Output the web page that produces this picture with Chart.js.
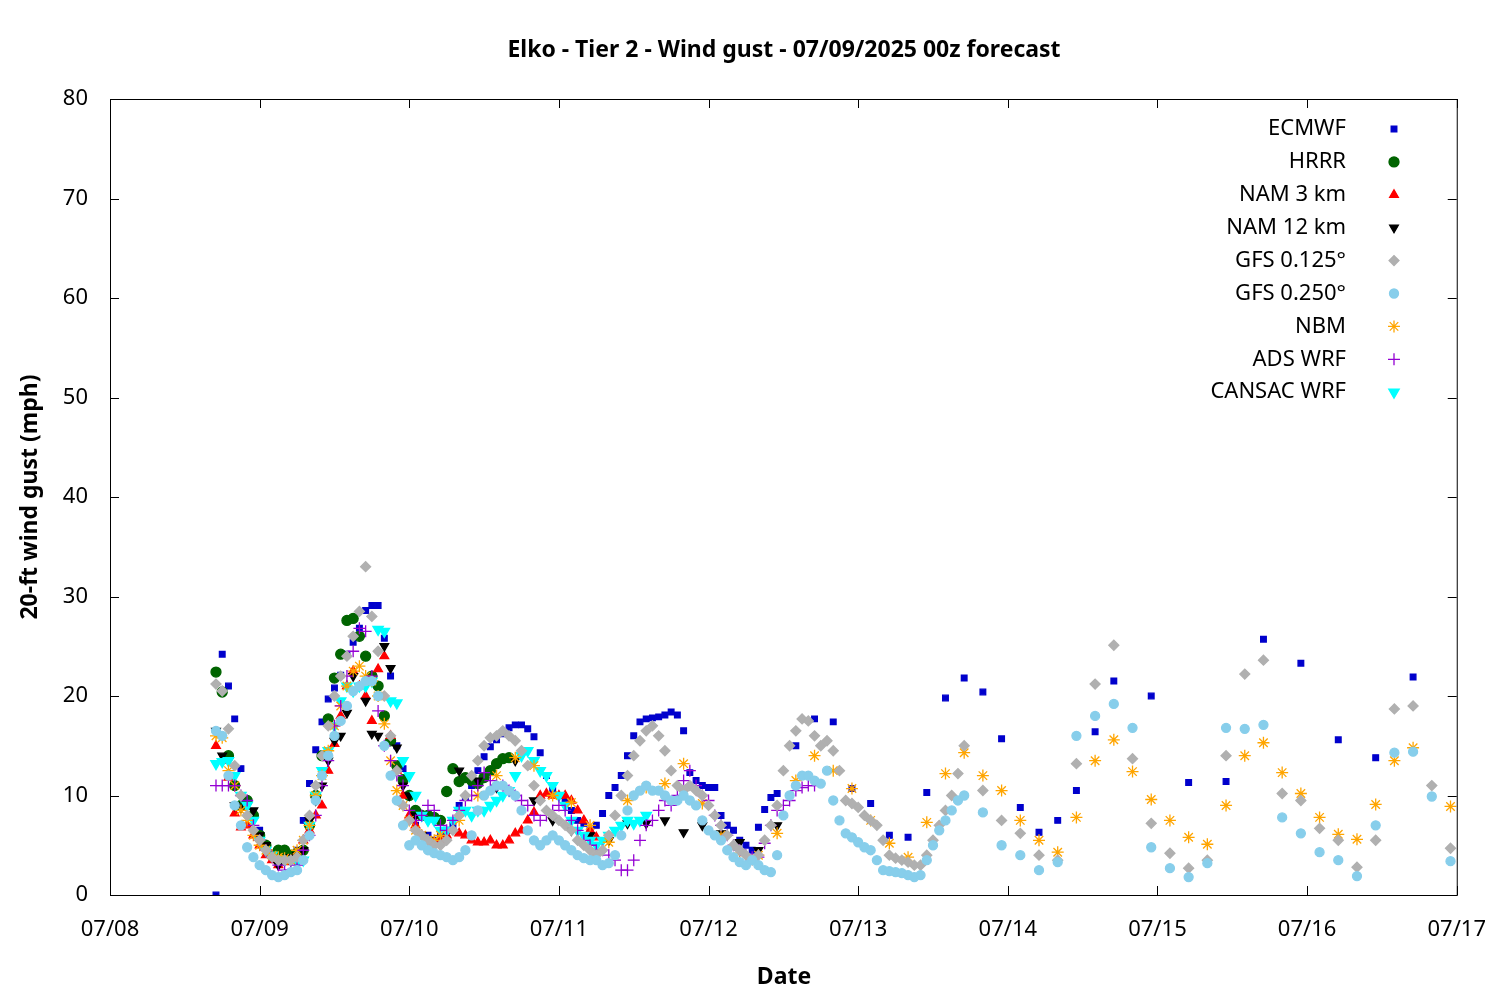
<!DOCTYPE html>
<html><head><meta charset="utf-8">
<script src="https://cdn.jsdelivr.net/npm/chart.js@4/dist/chart.umd.min.js"></script>
<style>html,body{margin:0;padding:0;background:#fff}#wrap{width:1500px;height:1000px}</style>
</head><body><div id="wrap"><canvas id="c"></canvas></div>
<script>
// hours since 07/08 00 (local); tick labels
const xTickLabels = ["07/08","07/09","07/10","07/11","07/12","07/13","07/14","07/15","07/16","07/17"];
function rng(a,b,s){const r=[];for(let h=a;h<=b;h+=s)r.push(h);return r;}

const ecmwfT = rng(17,107,1).concat(rng(110,161,3), rng(167,209,6));
const ecmwfV = [0,24.2,21,17.7,12.7,9.5,8,6.5,5,4,3.5,3.5,4,4.5,7.5,11.2,14.6,17.4,19.7,20.8,22.1,24.2,25.4,26.8,28.6,29.1,29.1,25.8,22,15,12.7,10,7,6,6,5.5,6,6.5,7,9,9.8,11,12.5,13.9,14.9,15.6,16.2,16.8,17.1,17.1,16.7,15.9,14.3,12,10.5,10,9.5,8.5,7.5,7.2,6.5,7,8.2,10,10.8,12,14,16,17.4,17.7,17.8,17.9,18.1,18.4,18.1,16.5,12.3,11.5,11,10.8,10.8,8,7,6.5,5.5,5,4.5,6.8,8.6,9.8,10.2,
 15,17.7,17.4,10.7,9.2,6,5.8,10.3,19.8,21.8,20.4,15.7,8.8,6.3,7.5,10.5,16.4,21.5,
 20,11.3,11.4,25.7,23.3,15.6,13.8,21.9];

const hrrrT = rng(17,64,1);
const hrrrV = [22.4,20.4,14,11,9,9.5,8,6,5,4,4.5,4.5,4,4.2,4.5,7,10,14,17.7,21.8,24.2,27.6,27.8,26,24,22,21,18,15.5,13,11.6,10,8.5,8,8,7.8,7.5,10.4,12.7,11.4,11.8,11.5,11.2,11.8,12.5,13.2,13.7,13.8];

const nam3T = rng(17,78,1);
const nam3V = [15,13.5,11.8,8.2,6.8,7,6,5,4,3.5,3,3.3,3.5,4,5.5,6.5,8,9,12.5,15.2,18,21,22.5,21,20,17.5,22.7,24,16,12.5,10,8,7,6,5.5,5.3,5.5,6,6.5,6.2,6,5.5,5.3,5.3,5.5,5,5,5.5,6.2,6.5,7.5,8.3,10,10.2,10,10,10,9.5,8.5,7.5,6.5,5.8];

const nam12T = rng(17,53,1).concat(rng(56,107,3));
const nam12V = [16.5,14,13.5,9,8.8,9,8.5,6,5,4,3,3.5,3.8,4,4.5,7.5,9.5,11,13.5,15.5,16,18.3,22,21,19.5,16.2,16,25,22.8,14.8,11,10,8,6,5.5,5,6.5,
 12.5,11.5,10.8,13.5,9.5,7.5,6.5,6,5.5,7.2,7.2,7.5,6.3,7,6.2,5.3,4.5,7];

const gfs125T = rng(17,137,1).concat(rng(140,215,3));
const gfs125V = [21.2,20.5,16.7,13,10,8,6.5,5.5,4.5,3.8,3.5,3.5,3.5,3.8,
 5.5,8,11,14,17,20,22,24,26,28.5,33,28,24.5,20,16,12.5,9,
 7.5,6.5,6,5.5,5,5,5.5,6.5,8,10,12,13.5,15,15.8,16,16.5,16,
 15.5,14.5,13,11,9.5,8.5,8,7.5,7,6.5,5.5,5,4.5,4,4.5,6,
 8,10,12,14,15.5,16.5,17,16,14.5,12.5,11,10.5,11,10.5,10,9,
 8,7,6,5,4.5,4,3.5,4,5.5,7,9,12.5,15,16.5,17.7,17.5,
 16,15,15.5,14.5,12.5,9.5,9.2,8.8,8,7.5,7,5.5,4,3.7,3.5,3.3,3,3,4,5.5,7,8.5,10,12.2,15,
 10.5,7.5,6.2,4,3.5,13.2,21.2,25.1,13.7,7.2,4.2,2.7,3.5,14,22.2,23.6,10.2,9.5,6.7,5.5,2.8,5.5,18.7,19,11,4.7];

const gfs250T = gfs125T;
const gfs250V = [16.5,16,12,9,7,4.8,3.8,3,2.5,2,1.8,2,2.3,2.5,
 3.5,6,9.5,12,14,16,17.5,19,20.5,21,21.5,21.5,20,15,12,9.5,7,
 5,5.5,5,4.5,4.2,4,3.8,3.5,3.8,4.5,6,8.5,10,10.5,11,11,10.5,
 10,8.5,6.5,5.5,5,5.5,6,5.5,5,4.5,4,3.7,3.5,3.5,3,3.2,
 4,6,8.5,10,10.5,11,10.5,10.5,10,9.5,9.5,10,9.5,9,7.5,6.5,
 6,5.5,4.5,3.8,3.3,3,3.5,3,2.5,2.3,4,8,10,11,12,12,
 11.5,11.2,12.5,9.5,7.5,6.2,5.8,5.3,4.8,4.5,3.5,2.5,2.4,2.3,2.2,2,1.8,2,3.5,5,6.5,7.5,8.5,9.5,10,
 8.3,5,4,2.5,3.3,16,18,19.2,16.8,4.8,2.7,1.8,3.2,16.8,16.7,17.1,7.8,6.2,4.3,3.5,1.9,7,14.3,14.4,9.9,3.4];

const nbmT = rng(17,53,1).concat(rng(56,209,3), [215]);
const nbmV = [16,15.8,12.5,11,8.5,7.5,6,5,4.5,4,3.8,3.7,3.5,4.5,
 5.5,7,10,12,14.5,17,19,21,22.5,23,22,21.5,20,17.2,13.5,10.5,9,7.5,6.5,6,5.5,5.5,6,
 7.5,10,12,13.8,13,10,9.3,7,5.3,9.5,10.8,11.2,13.2,9.2,6,4.2,4,6.2,11.5,14,12.5,10.7,7.5,5.2,3.8,7.3,12.2,14.3,12,10.5,7.5,5.5,4.3,7.8,13.5,15.6,12.4,9.6,7.5,5.8,5.1,9,14,15.3,12.3,10.2,7.8,6.1,5.6,9.1,13.5,14.8,8.9];

const adsT = rng(17,113,1);
const adsV = [11,11,11,11,10,9.5,7,5.5,4.5,3.8,3,2.5,2.5,3,
 4.5,6,8,11,13.5,17,19,22,24.5,26.8,26.5,22,18.5,15,13.5,12,11,
 8.5,7.5,8,9,8.5,7,6.5,7.5,8.5,9.5,10,11,12.3,11.5,11,11,10.5,
 10,9.5,9,8,7.5,8,8.5,9,8.5,7.5,6.5,5.5,5,4.5,4.5,4,
 3.5,2.5,2.5,3.5,5.5,7,7.5,8.5,9.5,9,10,11.5,12.5,11,10,9.5,
 8,7,6,5,4.5,4,3.8,3.8,5.2,7,8.5,9,9.5,10.5,10.8,11,11];

const cansacT = rng(17,86,1);
const cansacV = [13.2,13.4,13.5,12,10,9,7.5,5.5,4.5,4,3.5,3.5,3.5,3.3,
 3.5,7,10,12.5,14.5,17,19.5,21,20.5,21,21,21.5,26.7,26.5,19.5,19.3,13.5,
 12,10,8,7.5,7.5,6.5,6.5,7.5,8.5,8.5,8,8.5,8.5,9,9.5,10,10.5,
 12,14,14.5,13.5,12.5,12,11,10,9,7.5,6.5,6,5.5,5,5.5,6,
 6.5,7,7.5,7.2,7.5,8];

function pts(t,v){return t.map((h,i)=>({x:h,y:v[i]})).filter(p=>p.y!==undefined);}
const series = [
 {label:"ECMWF",t:ecmwfT,v:ecmwfV,c:"#0000cc",s:"rect",r:4,rot:0},
 {label:"HRRR",t:hrrrT,v:hrrrV,c:"#006400",s:"circle",r:5,rot:0},
 {label:"NAM 3 km",t:nam3T,v:nam3V,c:"#ff0000",s:"triangle",r:5,rot:0},
 {label:"NAM 12 km",t:nam12T,v:nam12V,c:"#000000",s:"triangle",r:5,rot:180},
 {label:"GFS 0.125°",t:gfs125T,v:gfs125V,c:"#b0b0b0",s:"rectRot",r:5,rot:0},
 {label:"GFS 0.250°",t:gfs250T,v:gfs250V,c:"#87ceeb",s:"circle",r:4.5,rot:0},
 {label:"NBM",t:nbmT,v:nbmV,c:"#ffa500",s:"star",r:6,rot:0},
 {label:"ADS WRF",t:adsT,v:adsV,c:"#9400d3",s:"cross",r:6,rot:0},
 {label:"CANSAC WRF",t:cansacT,v:cansacV,c:"#00ffff",s:"triangle",r:6,rot:180}
];
const order=[5,4,7,6,8,3,2,1,0];
const datasets = order.map(i=>{const s=series[i];return {label:s.label,data:pts(s.t,s.v),showLine:false,
 pointStyle:s.s,pointRadius:s.r,pointRotation:s.rot,pointBackgroundColor:s.c,pointBorderColor:s.c,pointBorderWidth:1.3};});

const FONT='"Noto Sans", sans-serif';
const deco={id:'deco',afterDraw(ch){
 const ctx=ch.ctx,a=ch.chartArea;ctx.save();
 ctx.strokeStyle='#000';ctx.lineWidth=1;ctx.strokeRect(a.left+0.5,a.top+0.5,a.right-a.left,a.bottom-a.top);
 const ys=ch.scales.y,xs=ch.scales.x;ctx.beginPath();
 for(let v=0;v<=80;v+=10){const y=Math.round(ys.getPixelForValue(v))+0.5;ctx.moveTo(a.left,y);ctx.lineTo(a.left+9,y);ctx.moveTo(a.right,y);ctx.lineTo(a.right-9,y);}
 for(let h=0;h<=216;h+=24){const x=Math.round(xs.getPixelForValue(h))+0.5;ctx.moveTo(x,a.bottom);ctx.lineTo(x,a.bottom-9);ctx.moveTo(x,a.top);ctx.lineTo(x,a.top+9);}
 ctx.stroke();
 ctx.fillStyle='#000';ctx.font='bold 23px '+FONT;ctx.textAlign='center';ctx.textBaseline='middle';
 ctx.fillText('Elko - Tier 2 - Wind gust - 07/09/2025 00z forecast',784,50);
 ctx.fillText('Date',784,977);
 ctx.save();ctx.translate(30,497);ctx.rotate(-Math.PI/2);ctx.fillText('20-ft wind gust (mph)',0,0);ctx.restore();
 ctx.font='22px '+FONT;ctx.textAlign='right';
 series.forEach((s,i)=>{const y=129+i*32.9;ctx.fillStyle='#000';ctx.fillText(s.label,1346,y);
  ctx.fillStyle=s.c;ctx.strokeStyle=s.c;ctx.lineWidth=1.3;
  Chart.helpers.drawPoint(ctx,{pointStyle:s.s,radius:s.r,rotation:s.rot,borderWidth:1.3},1394,y);
  if(s.s!=='cross'&&s.s!=='star')ctx.fill();});
 ctx.restore();}};

new Chart(document.getElementById('c'),{type:'scatter',data:{datasets},
 options:{responsive:true,maintainAspectRatio:false,animation:false,
  layout:{padding:{top:99,right:43,left:0,bottom:0}},
  plugins:{legend:{display:false},tooltip:{enabled:false}},
  scales:{
   x:{type:'linear',min:0,max:216,afterFit(s){s.height=105;},
      ticks:{stepSize:24,autoSkip:false,maxRotation:0,color:'#000',font:{family:FONT,size:22},padding:14,
        callback:(v)=>xTickLabels[v/24]},grid:{display:false},border:{display:false}},
   y:{min:0,max:80,afterFit(s){s.width=110;},
      ticks:{stepSize:10,color:'#000',font:{family:FONT,size:22},padding:14},grid:{display:false},border:{display:false}}
  }},plugins:[deco]});
</script></body></html>
